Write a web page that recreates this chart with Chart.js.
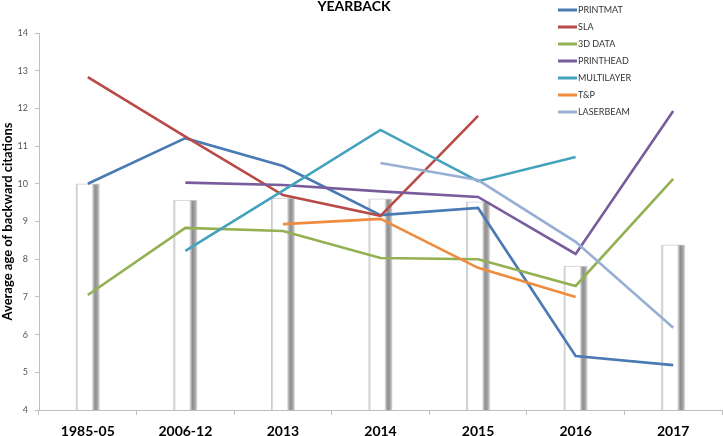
<!DOCTYPE html>
<html>
<head>
<meta charset="utf-8">
<title>YEARBACK</title>
<script src="https://cdn.jsdelivr.net/npm/chart.js@4.4.1/dist/chart.umd.min.js"></script>
<style>
  html, body { margin: 0; padding: 0; background: #fff; }
  #wrap { position: relative; width: 723px; height: 436px; }
</style>
</head>
<body>
<div id="wrap"><canvas id="chart"></canvas></div>
<script>
"use strict";

// ─── Data ──────────────────────────────────────────────────────────────────
const categories = ["1985-05", "2006-12", "2013", "2014", "2015", "2016", "2017"];
const barValues  = [10.0, 9.57, 9.62, 9.6, 9.52, 7.82, 8.38];

const printmat   = [10.0, 11.21, 10.47, 9.17, 9.36, 5.43, 5.19];
const sla        = [12.83, 11.25, 9.7, 9.15, 11.8, null, null];
const data3d     = [7.05, 8.83, 8.75, 8.03, 8.0, 7.29, 10.13];
const printhead  = [null, 10.03, 9.97, 9.8, 9.65, 8.14, 11.93];
const multilayer = [null, 8.22, 9.82, 11.43, 10.07, 10.71, null];
const tAndP      = [null, null, 8.93, 9.07, 7.77, 7.0, null];
const laserbeam  = [null, null, null, 10.55, 10.1, 8.46, 6.18];

const yTicks = { min: 4, max: 14, step: 1 };

const SERIES = [
  { label: "PRINTMAT",   data: printmat,   colour: "#4a7ab4" },
  { label: "SLA",        data: sla,        colour: "#b84a47" },
  { label: "3D DATA",    data: data3d,     colour: "#93b152" },
  { label: "PRINTHEAD",  data: printhead,  colour: "#785c9c" },
  { label: "MULTILAYER", data: multilayer, colour: "#43a3bd" },
  { label: "T&P",        data: tAndP,      colour: "#ee8c3f" },
  { label: "LASERBEAM",  data: laserbeam,  colour: "#98afd4" },
];

// ─── Bar shading (white column with grey edges) ───────────────────────────
const BAR_W = 24;
function barFill(ctx) {
  const chart = ctx.chart;
  if (!chart.chartArea || !chart.scales.x) return "#ffffff";
  const cx = chart.scales.x.getPixelForValue(ctx.dataIndex);
  const g  = chart.ctx.createLinearGradient(cx - BAR_W / 2, 0, cx + BAR_W / 2, 0);
  g.addColorStop(0.00, "#c4c4c4");
  g.addColorStop(0.06, "#d8d8d8");
  g.addColorStop(0.11, "#ffffff");
  g.addColorStop(0.66, "#ffffff");
  g.addColorStop(0.72, "#c4c4c4");
  g.addColorStop(0.80, "#8e8e8e");
  g.addColorStop(0.90, "#a2a2a2");
  g.addColorStop(1.00, "#e2e2e2");
  return g;
}

// ─── Title + legend drawn in the plot corner ──────────────────────────────
const overlay = {
  id: "overlay",
  afterDraw(chart) {
    const ctx = chart.ctx;
    ctx.save();
    ctx.fillStyle = "#000";
    ctx.font = "bold 14px Lato";
    ctx.textAlign = "center";
    ctx.textBaseline = "middle";
    ctx.fillText("YEARBACK", 354, 6);

    ctx.font = "9px Lato";
    ctx.textAlign = "left";
    let k = 0;
    chart.data.datasets.forEach(ds => {
      if (ds.type !== "line") return;
      const y = 10 + k * 17;
      ctx.strokeStyle = ds.borderColor;
      ctx.lineWidth = 3;
      ctx.beginPath();
      ctx.moveTo(558, y);
      ctx.lineTo(577, y);
      ctx.stroke();
      ctx.fillStyle = "#333";
      ctx.fillText(ds.label, 578, y + 0.5);
      k++;
    });
    ctx.restore();
  },
};

const datasets = [
  {
    type: "bar",
    label: "bars",
    data: barValues,
    backgroundColor: barFill,
    borderColor: "#cfcfcf",
    borderWidth: { top: 1, left: 0, right: 0, bottom: 0 },
    borderSkipped: "bottom",
    barThickness: BAR_W,
    order: 20,
  },
  ...SERIES.map((s, i) => ({
    type: "line",
    label: s.label,
    data: s.data,
    borderColor: s.colour,
    backgroundColor: s.colour,
    borderWidth: 2.6,
    pointRadius: 0,
    tension: 0,
    fill: false,
    spanGaps: false,
    order: 10 - i,
  })),
];

new Chart(document.getElementById("chart"), {
  type: "bar",
  data: { labels: categories, datasets },
  options: {
    responsive: true,
    maintainAspectRatio: false,
    animation: false,
    layout: { padding: { top: 33, right: 1, left: 0, bottom: 0 } },
    plugins: {
      legend: { display: false },
      title: { display: false },
      tooltip: { enabled: false },
    },
    scales: {
      x: {
        offset: true,
        grid: {
          display: true,
          offset: true,
          drawOnChartArea: false,
          drawTicks: true,
          tickLength: 5,
          color: "#bfbfbf",
        },
        border: { color: "#bfbfbf", width: 1 },
        ticks: {
          color: "#000",
          font: { family: "Lato", size: 14, weight: "bold" },
          padding: 8,
          maxRotation: 0,
        },
        afterFit: s => { s.height = 26; },
      },
      y: {
        min: yTicks.min,
        max: yTicks.max,
        grid: {
          drawOnChartArea: false,
          drawTicks: true,
          tickLength: 4,
          color: "#bfbfbf",
        },
        border: { color: "#bfbfbf", width: 1 },
        ticks: {
          stepSize: yTicks.step,
          color: "#555",
          font: { family: "Lato", size: 9 },
          padding: 7,
        },
        title: {
          display: true,
          text: "Average age of backward citations",
          color: "#000",
          font: { family: "Lato", size: 13, weight: "bold" },
          padding: { top: 0, bottom: 0 },
        },
        afterFit: s => { s.width = 39; },
      },
    },
  },
  plugins: [overlay],
});
</script>
</body>
</html>
